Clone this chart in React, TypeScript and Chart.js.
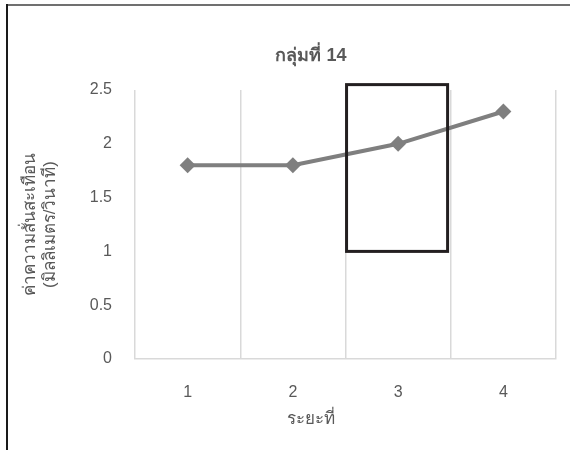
import React, { useEffect, useRef } from 'react';
import { Chart, registerables } from 'chart.js';

Chart.register(...registerables);

const categories = ['1', '2', '3', '4'];
const values = [1.8, 1.8, 2.0, 2.3];
const yMin = 0;
const yMax = 2.5;
const yStep = 0.5;
const chartTitle = 'กลุ่มที่ 14';
const xTitle = 'ระยะที่';
const yTitle = ['ค่าความสั่นสะเทือน', '(มิลลิเมตร/วินาที)'];
// highlight box, in category-index units (x) and value units (y)
const boxXRange = [1.51, 2.47];
const boxYRange = [1.0, 2.55];

const FONT = "'Liberation Sans', Arial, sans-serif";
const TEXT = '#595959';
const GRID = '#d9d9d9';
const LINE = '#7f7f7f';

export default function App() {
  const ref = useRef<HTMLCanvasElement>(null);

  useEffect(() => {
    if (!ref.current) return;

    const framePlugin = {
      id: 'frame',
      beforeDraw(chart: any) {
        const ctx = chart.ctx;
        ctx.save();
        ctx.fillStyle = '#ffffff';
        ctx.fillRect(0, 0, chart.width, chart.height);
        ctx.lineWidth = 2;
        ctx.strokeStyle = '#707070';
        ctx.beginPath();
        ctx.moveTo(7, 5);
        ctx.lineTo(chart.width, 5);
        ctx.stroke();
        ctx.strokeStyle = '#1a1a1a';
        ctx.beginPath();
        ctx.moveTo(7, 4);
        ctx.lineTo(7, chart.height);
        ctx.stroke();
        ctx.restore();
      },
    };

    const textPlugin = {
      id: 'customTexts',
      afterDraw(chart: any) {
        const ctx = chart.ctx;
        ctx.save();
        ctx.fillStyle = TEXT;
        ctx.textAlign = 'center';
        ctx.textBaseline = 'middle';
        ctx.font = `bold 18px ${FONT}`;
        ctx.fillText(chartTitle, 311, 56);
        ctx.font = `17px ${FONT}`;
        ctx.fillText(xTitle, 311, 419);
        ctx.restore();
      },
    };

    const boxPlugin = {
      id: 'highlightBox',
      afterDatasetsDraw(chart: any) {
        const xs = chart.scales.x;
        const ys = chart.scales.y;
        const x1 = xs.getPixelForValue(boxXRange[0]);
        const x2 = xs.getPixelForValue(boxXRange[1]);
        const y1 = ys.getPixelForValue(boxYRange[1]);
        const y2 = ys.getPixelForValue(boxYRange[0]);
        const ctx = chart.ctx;
        ctx.save();
        ctx.lineWidth = 3;
        ctx.strokeStyle = '#231f20';
        ctx.strokeRect(x1, y1, x2 - x1, y2 - y1);
        ctx.restore();
      },
    };

    const chart = new Chart(ref.current, {
      type: 'line',
      data: {
        labels: categories,
        datasets: [
          {
            data: values,
            borderColor: LINE,
            backgroundColor: LINE,
            borderWidth: 4,
            pointStyle: 'rectRot',
            pointRadius: 8,
            pointBackgroundColor: LINE,
            pointBorderColor: LINE,
            pointBorderWidth: 0,
            tension: 0,
            clip: false,
          },
        ],
      },
      options: {
        responsive: false,
        animation: false,
        layout: { padding: { top: 90, right: 14, bottom: 0, left: 0 } },
        plugins: {
          legend: { display: false },
          title: { display: false },
          tooltip: { enabled: false },
        },
        scales: {
          x: {
            type: 'category',
            offset: true,
            grid: { display: true, offset: true, color: GRID, lineWidth: 1.5, drawTicks: false },
            border: { display: true, color: GRID, width: 1.5 },
            ticks: { color: TEXT, font: { family: FONT, size: 16 }, padding: 24 },
            afterFit(s: any) {
              s.height = 91;
            },
          },
          y: {
            min: yMin,
            max: yMax,
            grid: { display: false, drawTicks: false },
            border: { display: false },
            ticks: {
              stepSize: yStep,
              color: TEXT,
              font: { family: FONT, size: 16 },
              padding: 23,
              callback: (v: any) => String(Number(v)),
            },
            title: {
              display: true,
              text: yTitle,
              color: TEXT,
              font: { family: FONT, size: 17 },
              padding: { top: 20, bottom: 0 },
            },
            afterFit(s: any) {
              s.width = 135;
            },
          },
        },
      },
      plugins: [framePlugin, boxPlugin, textPlugin],
    });

    return () => chart.destroy();
  }, []);

  return (
    <div style={{ position: 'absolute', left: 0, top: 0, width: 570, height: 450 }}>
      <canvas ref={ref} width={570} height={450} style={{ display: 'block' }} />
    </div>
  );
}
